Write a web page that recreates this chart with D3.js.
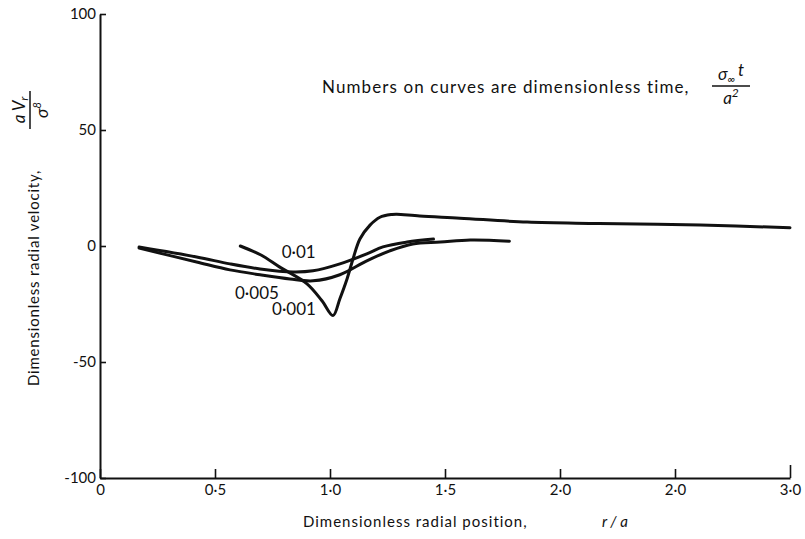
<!DOCTYPE html>
<html>
<head>
<meta charset="utf-8">
<script src="https://cdn.jsdelivr.net/npm/d3@7"></script>
<style>
  body { margin: 0; background: #fff; }
  svg { display: block; }
  text { font-family: "Lato", "DejaVu Sans", sans-serif; fill: #111; }
</style>
</head>
<body>
<svg id="chart" width="805" height="539"></svg>
<script>
// radial position r/a and dimensionless velocity for each time value
const r001 = [0.61, 0.70, 0.78, 0.90, 0.965, 1.013, 1.043, 1.074, 1.10, 1.13, 1.174, 1.217, 1.27, 1.29, 1.39, 1.565, 1.857, 2.17, 2.61, 3.0];
const v001 = [0, -3.9, -9, -16.3, -23.6, -30, -22.7, -14.2, -5.6, 3, 9, 12.4, 13.6, 13.7, 12.9, 12, 10.3, 9.7, 9, 7.9];

const r005 = [0.17, 0.42, 0.565, 0.696, 0.826, 0.926, 1.043, 1.16, 1.26, 1.36, 1.48, 1.61, 1.78];
const v005 = [-0.9, -6.9, -10.3, -12.4, -14.2, -15, -12.4, -6.4, -2.1, 0.9, 1.7, 2.6, 2.1];

const r01 = [0.17, 0.42, 0.565, 0.696, 0.84, 0.926, 1.043, 1.16, 1.23, 1.335, 1.45];
const v01 = [-0.4, -4.7, -7.7, -9.9, -11.2, -10.7, -7.7, -3.4, -0.4, 1.7, 3];

// where the time numbers sit (in r/a, velocity)
const curveLabels = ["0·01", "0·005", "0·001"];
const labelR = [0.79, 0.587, 0.748];
const labelV = [-5.2, -22.7, -29.6];

const xTicks = [0, 0.5, 1, 1.5, 2, 2.5, 3];
const xTickLabels = ["0", "0·5", "1·0", "1·5", "2·0", "2·0", "3·0"];
const yTicks = [100, 50, 0, -50, -100];
const yTickLabels = ["100", "50", "0", "-50", "-100"];

const svg = d3.select("#chart");
const margin = { left: 100, top: 14, right: 15, bottom: 61 };
const height = 539 - margin.top - margin.bottom;

const x = d3.scaleLinear().domain([0, 3]).range([0, 690]);
const y = d3.scaleLinear().domain([-100, 100]).range([height, 0]);

const g = svg.append("g").attr("transform", `translate(${margin.left},${margin.top})`);

// axes
const yAxis = d3.axisLeft(y)
  .tickValues(yTicks)
  .tickFormat((d, i) => yTickLabels[i])
  .tickSizeInner(-6)
  .tickSizeOuter(0)
  .tickPadding(4);
const yG = g.append("g").call(yAxis);

const xAxis = d3.axisBottom(x)
  .tickValues(xTicks)
  .tickFormat((d, i) => xTickLabels[i])
  .tickSizeInner(-9)
  .tickSizeOuter(0)
  .tickPadding(6);
const xG = g.append("g").attr("transform", `translate(0,${height})`).call(xAxis);

[xG, yG].forEach(a => {
  a.select(".domain").attr("stroke", "#111").attr("stroke-width", 2);
  a.selectAll(".tick line").attr("stroke", "#111").attr("stroke-width", 1.6);
  a.selectAll(".tick text").attr("font-size", 15).attr("font-family", "Lato, sans-serif").attr("fill", "#111");
});
// the end tick at 3.0 is a bit longer
xG.selectAll(".tick line").filter(d => d === 3).attr("y2", -13);

// curves
const line = d3.line()
  .x(d => x(d[0]))
  .y(d => y(d[1]))
  .curve(d3.curveCatmullRom.alpha(0.5));

const series = [
  d3.zip(r01, v01),
  d3.zip(r005, v005),
  d3.zip(r001, v001)
];

g.selectAll(".curve")
  .data(series)
  .enter()
  .append("path")
  .attr("class", "curve")
  .attr("d", line)
  .attr("fill", "none")
  .attr("stroke", "#111")
  .attr("stroke-width", 3)
  .attr("stroke-linecap", "round")
  .attr("stroke-linejoin", "round");

g.selectAll(".clabel")
  .data(curveLabels)
  .enter()
  .append("text")
  .attr("class", "clabel")
  .attr("x", (d, i) => x(labelR[i]))
  .attr("y", (d, i) => y(labelV[i]))
  .attr("font-size", 17)
  .text(d => d);

// note at the top right
svg.append("text")
  .attr("x", 322)
  .attr("y", 93)
  .attr("font-size", 17)
  .attr("letter-spacing", 1.1)
  .text("Numbers on curves are dimensionless time,");

const frac = svg.append("g").attr("transform", "translate(731,86)");
const num = frac.append("text").attr("y", -6).attr("text-anchor", "middle").attr("font-size", 17).attr("font-style", "italic");
num.append("tspan").text("σ");
num.append("tspan").attr("font-size", 11).attr("dy", 3).text("∞");
num.append("tspan").attr("dy", -7).attr("dx", 3).text("t");
frac.append("line").attr("x1", -19).attr("x2", 19).attr("stroke", "#111").attr("stroke-width", 1.5);
const den = frac.append("text").attr("y", 18).attr("text-anchor", "middle").attr("font-size", 17).attr("font-style", "italic");
den.append("tspan").text("a");
den.append("tspan").attr("font-size", 12).attr("dy", -7).text("2");

// x axis title
svg.append("text")
  .attr("x", 303)
  .attr("y", 527)
  .attr("font-size", 15)
  .attr("letter-spacing", 1)
  .text("Dimensionless radial position,");
svg.append("text")
  .attr("x", 602)
  .attr("y", 527)
  .attr("font-size", 15)
  .attr("font-style", "italic")
  .text("r / a");

// y axis title, rotated
svg.append("text")
  .attr("transform", "translate(39,386) rotate(-90)")
  .attr("font-size", 15)
  .attr("letter-spacing", 0.8)
  .text("Dimensionless radial velocity,");

const yfrac = svg.append("g").attr("transform", "translate(30,110) rotate(-90)");
const yn = yfrac.append("text").attr("y", -5).attr("text-anchor", "middle").attr("font-size", 17).attr("font-style", "italic");
yn.append("tspan").text("a V");
yn.append("tspan").attr("font-size", 11).attr("dy", 3).text("r");
yfrac.append("line").attr("x1", -19).attr("x2", 19).attr("stroke", "#111").attr("stroke-width", 1.5);
const yd = yfrac.append("text").attr("y", 18).attr("text-anchor", "middle").attr("font-size", 17).attr("font-style", "italic");
yd.append("tspan").text("σ");
yd.append("tspan").attr("font-size", 11).attr("dy", -7).text("8");
</script>
</body>
</html>
